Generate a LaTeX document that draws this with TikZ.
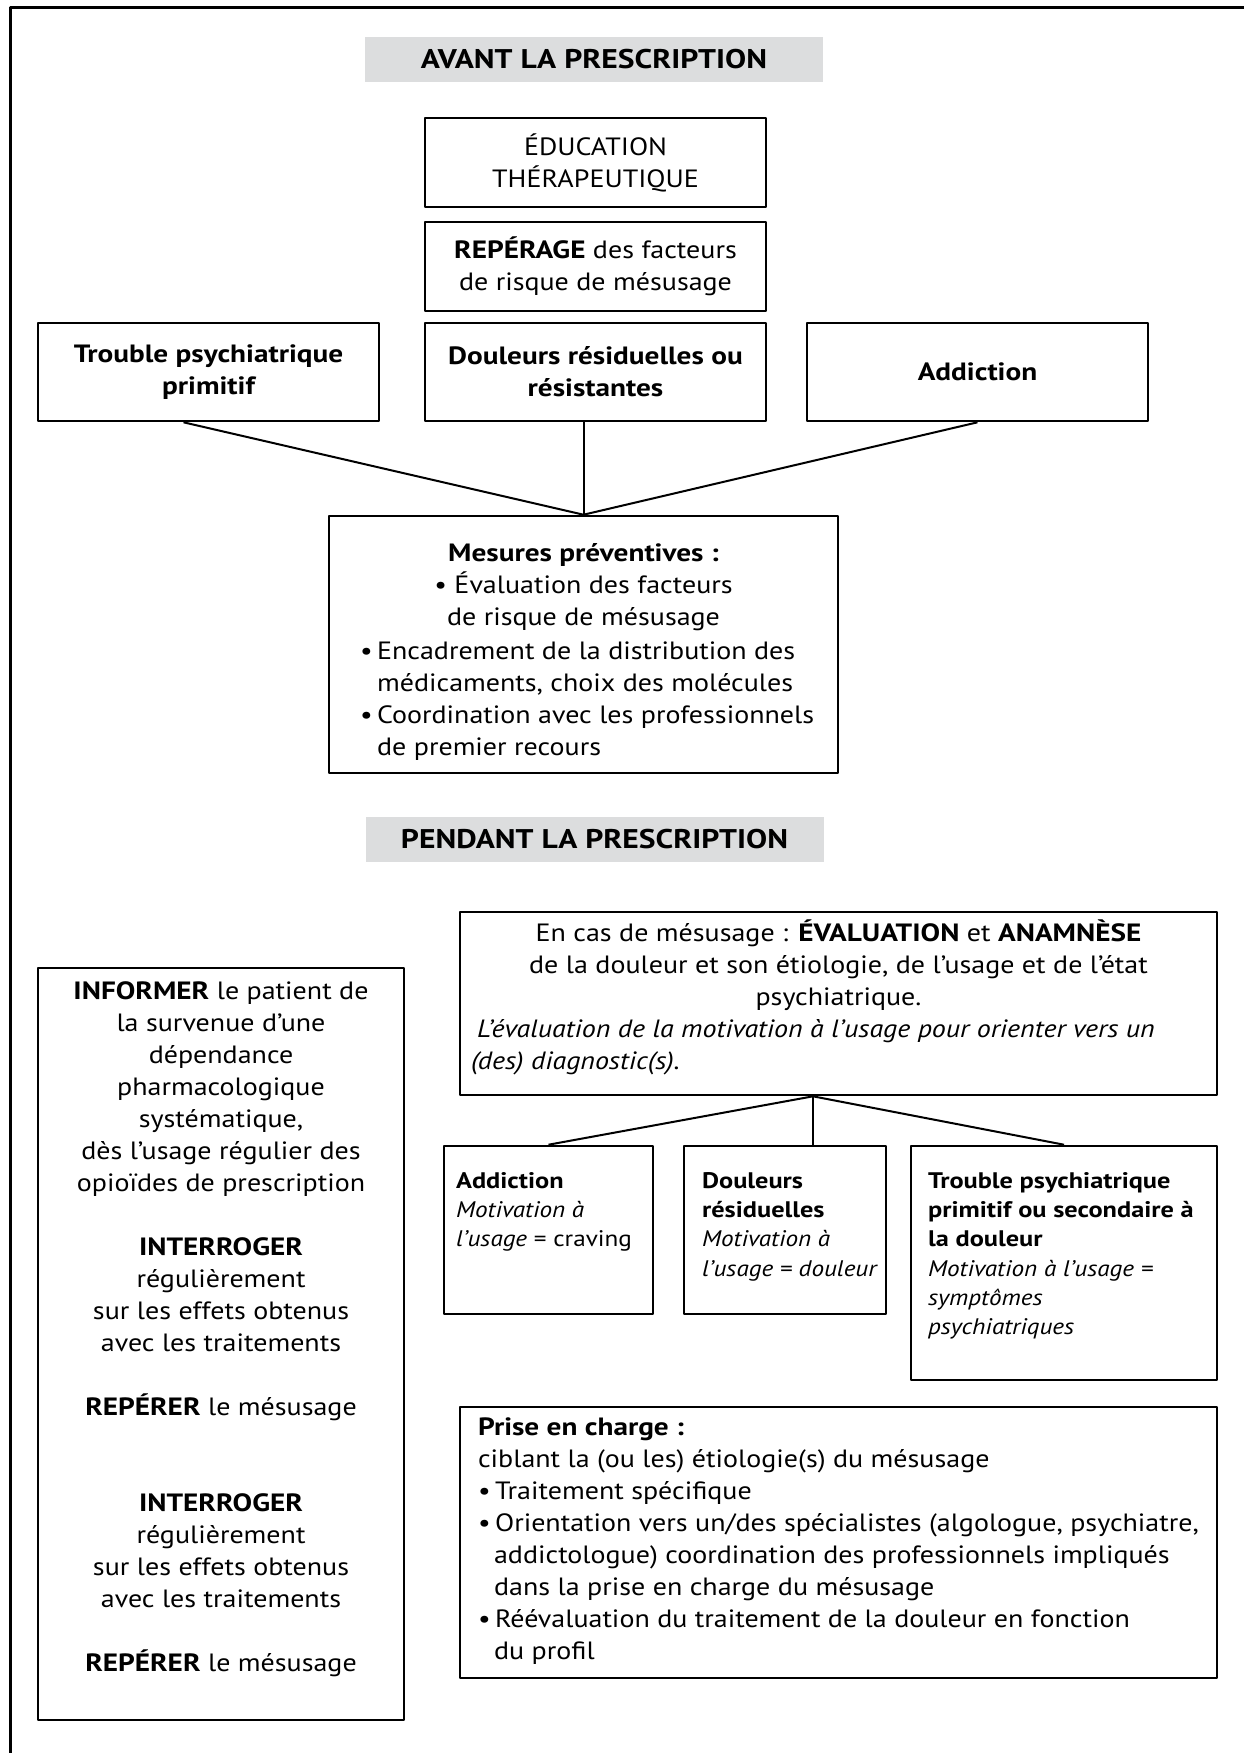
\documentclass[tikz,border=0pt]{standalone}
\usepackage{fontspec}
\setmainfont{PT Sans}[FakeStretch=1.12, BoldFeatures={FakeStretch=1.17}, BoldItalicFeatures={FakeStretch=1.17}]
\usetikzlibrary{positioning}
\definecolor{gristitre}{RGB}{220,221,222}
\newcommand\corps{\fontsize{12.5pt}{16pt}\selectfont}
\newcommand\petit{\fontsize{11.25pt}{14.65pt}\selectfont}
\newcommand\haut{\rule{0pt}{12pt}}
\newcommand\petithaut{\rule{0pt}{11pt}}
\newcommand\puce{\makebox[8.5pt][l]{•}}
\tikzset{
  cadre/.style={draw, line width=1.3pt, inner sep=0pt, align=center, font=\corps},
  titre/.style={fill=gristitre, inner sep=0pt, minimum width=229pt, minimum height=22.5pt,
    font=\fontsize{13.5pt}{16pt}\selectfont\bfseries},
  texte/.style={inner sep=0pt, font=\corps},
  petittexte/.style={inner sep=0pt, font=\petit, align=left},
  lien/.style={line width=1pt}
}

\begin{document}
\begin{tikzpicture}[x=0.5pt, y=-0.5pt, line join=round]
\useasboundingbox (0,0) rectangle (1244,1753);
% cadre general (ouvert a droite et en bas)
\draw[line width=1.5pt] (1244,7) -- (10,7) -- (10,1753);

% avant la prescription
\node[titre] (avant) at (594,59.5) {AVANT LA PRESCRIPTION};
\node[cadre, minimum width=170.5pt, minimum height=44.5pt] (education) at (595.5,162.5) {ÉDUCATION\\THÉRAPEUTIQUE};
\node[cadre, minimum width=170.5pt, minimum height=44.5pt] (reperage) at (595.5,266.5) {\textbf{REPÉRAGE} des facteurs\\de risque de mésusage};
\node[cadre, minimum width=170.5pt, minimum height=49pt, font=\corps\bfseries] (troublehaut) at (208.5,372) {Trouble psychiatrique\\primitif};
\node[cadre, minimum width=170.5pt, minimum height=49pt, font=\corps\bfseries] (douleurshaut) at (595.5,372) {Douleurs résiduelles ou\\résistantes};
\node[cadre, minimum width=170.5pt, minimum height=49pt, font=\corps\bfseries] (addictionhaut) at (977.5,372) {Addiction};
\node[cadre, minimum width=254.5pt, minimum height=128.5pt] (mesures) at (583.5,644.5) {};
\node[texte, align=center, below=11.35pt of mesures.north] (mesurestitre) {\haut\textbf{Mesures préventives :}\\• Évaluation des facteurs\\de risque de mésusage};
\node[texte, align=left, anchor=north west, below right=60pt and 16pt of mesures.north west] (mesuresliste) {\haut\puce Encadrement de la distribution des\\\hspace*{8.5pt}médicaments, choix des molécules\\\puce Coordination avec les professionnels\\\hspace*{8.5pt}de premier recours};
\draw[lien] ([xshift=-12.5pt]troublehaut.south) -- (mesures.north);
\draw[lien] (mesures.north |- douleurshaut.south) -- (mesures.north);
\draw[lien] (addictionhaut.south) -- (mesures.north);

% pendant la prescription
\node[titre] (pendant) at (594.5,839.5) {PENDANT LA PRESCRIPTION};
\node[cadre, minimum width=183pt, minimum height=376pt] (informer) at (221,1344) {};
\node[texte, align=center, below=4pt of informer.north] (informertxt) {\haut\textbf{INFORMER} le patient de\\la survenue d'une\\dépendance\\pharmacologique\\systématique,\\dès l'usage régulier des\\opioïdes de prescription\\[16pt]\textbf{INTERROGER}\\régulièrement\\sur les effets obtenus\\avec les traitements\\[16pt]\textbf{REPÉRER} le mésusage\\[32pt]\textbf{INTERROGER}\\régulièrement\\sur les effets obtenus\\avec les traitements\\[16pt]\textbf{REPÉRER} le mésusage};

\node[cadre, minimum width=378.5pt, minimum height=91.5pt] (evaluation) at (838.5,1003.5) {};
\node[texte, align=center, below=3pt of evaluation.north] (evaluationtxt) {\haut En cas de mésusage : \textbf{ÉVALUATION} et \textbf{ANAMNÈSE}\\de la douleur et son étiologie, de l'usage et de l'état\\psychiatrique.};
\node[texte, align=left, font=\corps\itshape, below right=51pt and 6pt of evaluation.north west] (motivation) {\haut\hspace*{3pt}L'évaluation de la motivation à l'usage pour orienter vers un\\(des) diagnostic(s).};
\coordinate (embranchement) at ([xshift=-12.75pt]evaluation.south);

\node[cadre, minimum width=104.5pt, minimum height=84pt] (addictionbas) at (548.5,1230) {};
\node[cadre, minimum width=101pt, minimum height=84pt] (douleursbas) at (785,1230) {};
\node[cadre, minimum width=153pt, minimum height=117pt] (troublebas) at (1064,1263) {};
\node[petittexte, below right=10.5pt and 6.5pt of addictionbas.north west] (addictiontxt) {\petithaut\textbf{Addiction}\\\textit{Motivation à}\\\textit{l'usage} = craving};
\node[petittexte, below right=10.5pt and 9.5pt of douleursbas.north west] (douleurstxt) {\petithaut\textbf{Douleurs}\\\textbf{résiduelles}\\\textit{Motivation à}\\\textit{l'usage = douleur}};
\node[petittexte, below right=10.5pt and 9pt of troublebas.north west] (troubletxt) {\petithaut\textbf{Trouble psychiatrique}\\\textbf{primitif ou secondaire à}\\\textbf{la douleur}\\\textit{Motivation à l'usage =}\\\textit{symptômes}\\\textit{psychiatriques}};
\draw[lien] (addictionbas.north) -- (embranchement) -- (troublebas.north);
\draw[lien] (embranchement) -- (embranchement |- douleursbas.north);

\node[cadre, minimum width=378.5pt, minimum height=135.5pt] (priseencharge) at (838.5,1542.5) {};
\node[texte, align=left, below right=2.5pt and 9.5pt of priseencharge.north west] (priseenchargetxt) {\haut\textbf{Prise en charge :}\\ciblant la (ou les) étiologie(s) du mésusage\\\puce Traitement spécifique\\\puce Orientation vers un/des spécialistes (algologue, psychiatre,\\\hspace*{8pt}addictologue) coordination des professionnels impliqués\\\hspace*{8pt}dans la prise en charge du mésusage\\\puce Réévaluation du traitement de la douleur en fonction\\\hspace*{8pt}du profil};
\end{tikzpicture}
\end{document}
